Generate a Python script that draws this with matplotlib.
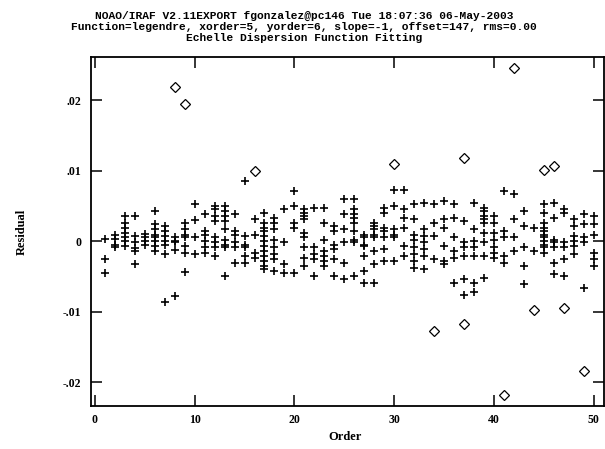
import matplotlib
matplotlib.use("Agg")
import matplotlib.pyplot as plt

# residuals of the fitted lines (plus markers), one row per order
fit_order = [
    1, 1, 1,
    2, 2, 2, 2,
    3, 3, 3, 3, 3, 3, 3,
    4, 4, 4, 4, 4, 4,
    5, 5, 5, 5,
    6, 6, 6, 6, 6, 6, 6, 6,
    7, 7, 7, 7, 7, 7, 7,
    8, 8, 8, 8, 8,
    9, 9, 9, 9, 9, 9, 9,
    10, 10, 10, 10,
    11, 11, 11, 11, 11, 11,
    12, 12, 12, 12, 12, 12, 12, 12,
    13, 13, 13, 13, 13, 13, 13, 13, 13,
    14, 14, 14, 14, 14, 14,
    15, 15, 15, 15, 15, 15,
    16, 16, 16, 16,
    17, 17, 17, 17, 17, 17, 17, 17, 17, 17, 17, 17,
    18, 18, 18, 18, 18, 18, 18, 18,
    19, 19, 19, 19,
    20, 20, 20, 20, 20,
    21, 21, 21, 21, 21, 21, 21, 21, 21,
    22, 22, 22, 22, 22,
    23, 23, 23, 23, 23, 23, 23,
    24, 24, 24, 24, 24, 24,
    25, 25, 25, 25, 25, 25,
    26, 26, 26, 26, 26, 26, 26, 26, 26,
    27, 27, 27, 27, 27, 27, 27,
    28, 28, 28, 28, 28, 28, 28, 28,
    29, 29, 29, 29, 29, 29, 29,
    30, 30, 30, 30, 30, 30,
    31, 31, 31, 31, 31, 31,
    32, 32, 32, 32, 32, 32, 32, 32,
    33, 33, 33, 33, 33, 33, 33,
    34, 34, 34, 34,
    35, 35, 35, 35, 35, 35,
    36, 36, 36, 36, 36, 36,
    37, 37, 37, 37, 37, 37,
    38, 38, 38, 38, 38, 38, 38,
    39, 39, 39, 39, 39, 39, 39, 39, 39,
    40, 40, 40, 40, 40, 40, 40,
    41, 41, 41, 41, 41,
    42, 42, 42, 42,
    43, 43, 43, 43, 43,
    44, 44,
    45, 45, 45, 45, 45, 45, 45, 45, 45, 45, 45,
    46, 46, 46, 46, 46, 46, 46,
    47, 47, 47, 47, 47, 47,
    48, 48, 48, 48, 48, 48,
    49, 49, 49, 49, 49,
    50, 50, 50, 50, 50, 50,
]
fit_resid = [
    0.0003, -0.0025, -0.0046,
    0.0009, 0.0003, -0.0005, -0.0008,
    0.0035, 0.0026, 0.0019, 0.0012, 0.0005, 0.0, -0.0007,
    0.0035, 0.0007, -0.0002, -0.0010, -0.0014, -0.0033,
    0.0010, 0.0005, 0.0, -0.0005,
    0.0043, 0.0024, 0.0017, 0.0009, 0.0005, 0.0, -0.0007, -0.0014,
    0.0021, 0.0014, 0.0007, 0.0, -0.0005, -0.0019, -0.0086,
    0.0006, 0.0, -0.0002, -0.0013, -0.0078,
    0.0026, 0.0017, 0.0009, 0.0005, -0.0007, -0.0017, -0.0044,
    0.0052, 0.0030, 0.0005, -0.0019,
    0.0038, 0.0014, 0.0009, 0.0, -0.0009, -0.0017,
    0.0050, 0.0045, 0.0035, 0.0028, 0.0005, -0.0002, -0.0009, -0.0021,
    0.0050, 0.0043, 0.0035, 0.0028, 0.0017, 0.0002, -0.0005, -0.0009, -0.0050,
    0.0038, 0.0014, 0.0009, -0.0002, -0.0009, -0.0031,
    0.0085, 0.0007, -0.0005, -0.0009, -0.0021, -0.0031,
    0.0031, 0.0009, -0.0017, -0.0024,
    0.0040, 0.0026, 0.0019, 0.0014, 0.0007, 0.0, -0.0007, -0.0014, -0.0021, -0.0028, -0.0035, -0.0040,
    0.0033, 0.0026, 0.0017, 0.0002, -0.0009, -0.0019, -0.0026, -0.0043,
    0.0045, -0.0002, -0.0033, -0.0045,
    0.0071, 0.0050, 0.0026, 0.0019, -0.0045,
    0.0045, 0.0040, 0.0035, 0.0031, 0.0012, 0.0005, -0.0009, -0.0024, -0.0035,
    0.0047, -0.0009, -0.0019, -0.0026, -0.0050,
    0.0047, 0.0026, 0.0002, -0.0014, -0.0021, -0.0028, -0.0035,
    0.0021, 0.0014, -0.0005, -0.0012, -0.0026, -0.0050,
    0.0059, 0.0038, 0.0017, -0.0002, -0.0031, -0.0054,
    0.0059, 0.0045, 0.0038, 0.0033, 0.0026, 0.0014, 0.0002, -0.0002, -0.0050,
    0.0009, 0.0005, -0.0005, -0.0007, -0.0021, -0.0043, -0.0059,
    0.0026, 0.0021, 0.0017, 0.0009, 0.0005, -0.0014, -0.0033, -0.0059,
    0.0047, 0.0040, 0.0019, 0.0014, 0.0005, -0.0012, -0.0028,
    0.0073, 0.0050, 0.0017, 0.0009, 0.0005, -0.0028,
    0.0073, 0.0045, 0.0033, 0.0019, -0.0007, -0.0021,
    0.0052, 0.0031, 0.0009, 0.0002, -0.0009, -0.0019, -0.0028, -0.0038,
    0.0054, 0.0017, 0.0007, -0.0002, -0.0012, -0.0021, -0.0040,
    0.0052, 0.0026, 0.0007, -0.0026,
    0.0057, 0.0031, 0.0019, -0.0007, -0.0028, -0.0033,
    0.0052, 0.0033, 0.0005, -0.0014, -0.0024, -0.0059,
    0.0028, -0.0002, -0.0009, -0.0021, -0.0054, -0.0076,
    0.0054, 0.0017, 0.0, -0.0009, -0.0021, -0.0059, -0.0073,
    0.0047, 0.0043, 0.0035, 0.0031, 0.0026, 0.0012, -0.0002, -0.0021, -0.0052,
    0.0035, 0.0026, 0.0012, 0.0002, -0.0009, -0.0017, -0.0024,
    0.0071, 0.0014, 0.0005, -0.0021, -0.0031,
    0.0066, 0.0031, 0.0005, -0.0014,
    0.0043, 0.0021, -0.0009, -0.0035, -0.0061,
    0.0019, -0.0014,
    0.0052, 0.0040, 0.0026, 0.0019, 0.0014, 0.0009, 0.0005, 0.0, -0.0005, -0.0009, -0.0017,
    0.0054, 0.0033, 0.0002, -0.0002, -0.0009, -0.0031, -0.0047,
    0.0045, 0.0040, -0.0002, -0.0009, -0.0026, -0.0050,
    0.0031, 0.0021, 0.0007, 0.0, -0.0007, -0.0019,
    0.0038, 0.0024, 0.0005, -0.0002, -0.0066,
    0.0035, 0.0024, 0.0009, -0.0017, -0.0026, -0.0035,
]

# rejected lines (diamonds)
rej_order = [8, 9, 16, 30, 37, 42, 45, 46, 34, 37, 41, 44, 47, 49]
rej_resid = [0.0219, 0.0195, 0.0099, 0.0109, 0.0118, 0.0246, 0.0101, 0.0107,
             -0.0128, -0.0117, -0.0219, -0.0098, -0.0095, -0.0184]

x_ticks = [0, 10, 20, 30, 40, 50]
y_ticks = [-0.02, -0.01, 0.0, 0.01, 0.02]
y_ticklabels = ["-.02", "-.01", "0", ".01", ".02"]

title_lines = [
    "NOAO/IRAF V2.11EXPORT fgonzalez@pc146 Tue 18:07:36 06-May-2003",
    "Function=legendre, xorder=5, yorder=6, slope=-1, offset=147, rms=0.00",
    "Echelle Dispersion Function Fitting",
]

FONT = "Liberation Serif"
MONO = "Liberation Mono"

fig = plt.figure(figsize=(6.05, 4.49), dpi=100)
ax = fig.add_axes([91 / 605, 1 - 406 / 449, 513 / 605, 349 / 449])

ax.plot(fit_order, fit_resid, linestyle="none", marker="+", markersize=6,
        markeredgewidth=1.2, color="black")
ax.plot(rej_order, rej_resid, linestyle="none", marker="D", markersize=4.8,
        markeredgewidth=0.9, markerfacecolor="none", markeredgecolor="black")

ax.set_xlim(-0.4, 51.05)
ax.set_ylim(-0.0234, 0.0261)
ax.set_xticks(x_ticks)
ax.set_xticklabels([str(t) for t in x_ticks], fontfamily=FONT,
                   fontweight="bold", fontsize=8.5)
ax.set_yticks(y_ticks)
ax.set_yticklabels(y_ticklabels, fontfamily=FONT, fontweight="bold",
                   fontsize=8.5)
ax.tick_params(direction="in", length=8, width=1.1, top=True, right=True)
ax.tick_params(axis="x", pad=6)
ax.tick_params(axis="y", pad=7)
for s in ax.spines.values():
    s.set_linewidth(1.3)

fig.text(345 / 605, 1 - 437 / 449, "Order", ha="center", va="center",
         fontfamily=FONT, fontweight="bold", fontsize=9)
fig.text(22 / 605, 1 - 232 / 449, "Residual", rotation=90, ha="center",
         va="center", fontfamily=FONT, fontweight="bold", fontsize=9)

for i, line in enumerate(title_lines):
    fig.text(304 / 605, 1 - (16 + 11 * i) / 449, line, ha="center",
             va="center", fontfamily=MONO, fontweight="bold", fontsize=8.1)

fig.savefig("out.png", dpi=100)
